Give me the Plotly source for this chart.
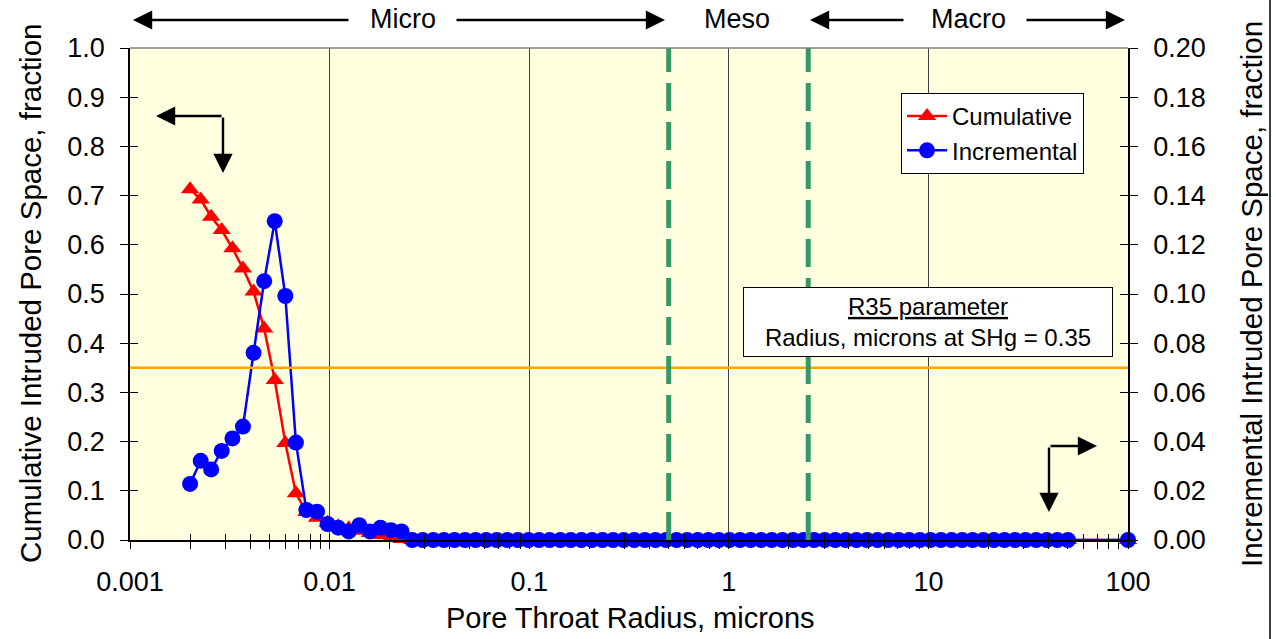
import plotly.graph_objects as go

# ---------------- data ----------------
radius_um = [
    0.00200, 0.00226, 0.00255, 0.00288, 0.00326, 0.00368, 0.00416, 0.00470, 0.00531, 0.00600,
    0.00678, 0.00765, 0.00865, 0.00977, 0.01104, 0.01247, 0.01409, 0.01592, 0.01798, 0.02031,
    0.02295, 0.02593, 0.02929, 0.03309, 0.03738, 0.04223, 0.04772, 0.05391, 0.0609, 0.0688,
    0.0777, 0.0878, 0.0992, 0.1121, 0.1266, 0.1431, 0.1616, 0.1826, 0.2063, 0.2331,
    0.2633, 0.2975, 0.3361, 0.3797, 0.4290, 0.4847, 0.5475, 0.6186, 0.6988, 0.7896,
    0.892, 1.008, 1.139, 1.286, 1.453, 1.642, 1.855, 2.096, 2.367, 2.675,
    3.022, 3.414, 3.857, 4.358, 4.923, 5.562, 6.284, 7.099, 8.020, 9.061,
    10.23, 11.56, 13.06, 14.76, 16.67, 18.84, 21.28, 24.05, 27.16, 30.69,
    34.67, 39.17, 44.26, 50.00, 100.0,
]

cumulative_head = [
    0.713, 0.692, 0.657, 0.630, 0.593, 0.552, 0.505, 0.430, 0.325, 0.197,
    0.095, 0.057, 0.045, 0.035, 0.028, 0.024, 0.019, 0.014, 0.010, 0.006,
    0.002,
]
incremental_head = [
    0.0228, 0.0322, 0.0287, 0.0362, 0.0413, 0.0461, 0.0761, 0.1052, 0.1296, 0.0992,
    0.0396, 0.0122, 0.0115, 0.0065, 0.0050, 0.0035, 0.0060, 0.0035, 0.0050, 0.0040,
    0.0035,
]
zeros_tail = [0.0] * (len(radius_um) - len(cumulative_head))
cumulative = cumulative_head + zeros_tail
incremental = incremental_head + zeros_tail

x_tickvals = [0.001, 0.01, 0.1, 1, 10, 100]
x_ticktext = ["0.001", "0.01", "0.1", "1", "10", "100"]
y1_ticks = [0.0, 0.1, 0.2, 0.3, 0.4, 0.5, 0.6, 0.7, 0.8, 0.9, 1.0]
y2_ticks = [0.00, 0.02, 0.04, 0.06, 0.08, 0.10, 0.12, 0.14, 0.16, 0.18, 0.20]

r35_level = 0.35
meso_bounds = [0.5, 2.5]

# ---------------- layout constants ----------------
W, H = 1276, 639
ML, MR, MT, MB = 130, 148, 48, 99
PW, PH = W - ML - MR, H - MT - MB
FONT = "Liberation Sans, Arial, sans-serif"
TICK_SIZE = 27


def px(x):
    return (x - ML) / PW


def py(y):
    return (H - MB - y) / PH


fig = go.Figure()

fig.add_trace(go.Scatter(
    x=radius_um, y=cumulative, name="Cumulative", mode="lines+markers",
    line=dict(color="#FF0000", width=2.5),
    marker=dict(symbol="triangle-up", size=16, color="#FF0000"),
    cliponaxis=False, yaxis="y",
))
fig.add_trace(go.Scatter(
    x=radius_um, y=incremental, name="Incremental", mode="lines+markers",
    line=dict(color="#0000FF", width=2.5),
    marker=dict(symbol="circle", size=16, color="#0000FF"),
    cliponaxis=False, yaxis="y2",
))
# helper invisible traces so the inner-tick axes get drawn
fig.add_trace(go.Scatter(x=[0.001, 100], y=[0, 0], xaxis="x2", yaxis="y3",
                         mode="none", showlegend=False, hoverinfo="skip"))
fig.add_trace(go.Scatter(x=[0.001, 100], y=[0, 0], xaxis="x2", yaxis="y4",
                         mode="none", showlegend=False, hoverinfo="skip"))

minor_vals = [m * 10 ** e for e in range(-3, 2) for m in range(2, 10)]

shapes = []
# R35 horizontal line
shapes.append(dict(type="line", xref="paper", yref="y", x0=0, x1=1,
                   y0=r35_level, y1=r35_level,
                   line=dict(color="#FFA500", width=2.5), layer="above"))
# meso boundaries
for b in meso_bounds:
    shapes.append(dict(type="line", xref="x", yref="paper",
                       x0=b, x1=b, y0=0, y1=1,
                       line=dict(color="#339966", width=5, dash="28px,11px"),
                       layer="above"))
# outer right frame line
shapes.append(dict(type="line", xref="paper", yref="paper",
                   x0=px(1270), x1=px(1270), y0=py(0), y1=py(639),
                   line=dict(color="#000000", width=1.5)))
# top border of plot area (grey)
shapes.append(dict(type="line", xref="paper", yref="paper",
                   x0=0, x1=1, y0=1, y1=1,
                   line=dict(color="#808080", width=1.5)))

annotations = []
TXT = dict(family=FONT, size=27, color="black")
TITLE = dict(family=FONT, size=29.5, color="black")


def arrow(tip_x, tip_y, tail_x, tail_y):
    annotations.append(dict(
        xref="paper", yref="paper", x=px(tip_x), y=py(tip_y),
        axref="pixel", ayref="pixel", ax=tail_x - tip_x, ay=tail_y - tip_y,
        text="", showarrow=True, arrowhead=2, arrowsize=1.6, arrowwidth=2.4,
        arrowcolor="black",
    ))


# top region labels with arrows
for label, cx in [("Micro", 403), ("Meso", 737), ("Macro", 968)]:
    annotations.append(dict(xref="paper", yref="paper", x=px(cx), y=py(19),
                            text=label, showarrow=False, font=TXT,
                            xanchor="center", yanchor="middle"))
arrow(133, 20, 350, 20)
arrow(665, 20, 455, 20)
arrow(810, 20, 905, 20)
arrow(1125, 20, 1025, 20)

# corner arrows
arrow(156, 116, 223, 116)
arrow(223, 173, 223, 116)
arrow(1097, 446, 1049, 446)
arrow(1049, 512, 1049, 446)

# R35 box
annotations.append(dict(
    xref="paper", yref="paper", x=px(927.5), y=py(322),
    text="<u>R35 parameter</u><br>Radius, microns at SHg = 0.35",
    showarrow=False, font=dict(family=FONT, size=24, color="black"),
    bgcolor="white", bordercolor="black", borderwidth=1, borderpad=2,
    xanchor="center", yanchor="middle", width=364, height=64,
))

# axis titles
annotations.append(dict(xref="paper", yref="paper", x=px(30), y=py(294),
                        text="Cumulative Intruded Pore Space, fraction",
                        textangle=-90, showarrow=False, font=TITLE,
                        xanchor="center", yanchor="middle"))
annotations.append(dict(xref="paper", yref="paper", x=px(1251), y=py(294),
                        text="Incremental Intruded Pore Space, fraction",
                        textangle=-90, showarrow=False, font=TITLE,
                        xanchor="center", yanchor="middle"))
annotations.append(dict(xref="paper", yref="paper", x=px(630), y=py(618),
                        text="Pore Throat Radius, microns",
                        showarrow=False, font=dict(family=FONT, size=29, color="black"),
                        xanchor="center", yanchor="middle"))

common_x = dict(type="log", range=[-3, 2], zeroline=False)

fig.update_layout(
    width=W, height=H,
    margin=dict(l=ML, r=MR, t=MT, b=MB, pad=0),
    paper_bgcolor="white", plot_bgcolor="#FFFFE0",
    font=dict(family=FONT, size=TICK_SIZE, color="black"),
    showlegend=True,
    legend=dict(x=px(901), y=py(93), xanchor="left", yanchor="top",
                bgcolor="white", bordercolor="black", borderwidth=1,
                font=dict(family=FONT, size=24, color="black"),
                tracegroupgap=0, itemwidth=40, traceorder="normal"),
    xaxis=dict(**common_x, tickvals=x_tickvals, ticktext=x_ticktext,
               showgrid=True, gridcolor="#404040", gridwidth=1,
               showline=True, linecolor="black", linewidth=1.5,
               ticks="outside", ticklen=7, tickcolor="black",
               minor=dict(tickvals=minor_vals, ticks="outside", ticklen=7,
                          tickcolor="black", showgrid=False),
               tickfont=dict(size=TICK_SIZE), ticklabelstandoff=10),
    xaxis2=dict(**common_x, overlaying="x", side="bottom", anchor="y3",
                tickvals=x_tickvals, showticklabels=False, showgrid=False,
                ticks="inside", ticklen=6, tickcolor="black",
                minor=dict(tickvals=minor_vals, ticks="inside", ticklen=6,
                           tickcolor="black", showgrid=False)),
    yaxis=dict(range=[0, 1], tickvals=y1_ticks, tickformat=".1f",
               showgrid=False, zeroline=False,
               showline=True, linecolor="black", linewidth=1.5,
               ticks="outside", ticklen=8, tickcolor="black",
               tickfont=dict(size=TICK_SIZE), ticklabelstandoff=10),
    yaxis2=dict(range=[0, 0.2], tickvals=y2_ticks, tickformat=".2f",
                overlaying="y", side="right",
                showgrid=False, zeroline=False,
                showline=True, linecolor="black", linewidth=1.5,
                ticks="outside", ticklen=8, tickcolor="black",
                tickfont=dict(size=TICK_SIZE), ticklabelstandoff=10),
    yaxis3=dict(range=[0, 1], tickvals=y1_ticks, overlaying="y", side="left",
                showticklabels=False, showgrid=False, zeroline=False,
                ticks="inside", ticklen=8, tickcolor="black"),
    yaxis4=dict(range=[0, 0.2], tickvals=y2_ticks, overlaying="y", side="right",
                showticklabels=False, showgrid=False, zeroline=False,
                ticks="inside", ticklen=8, tickcolor="black"),
    shapes=shapes, annotations=annotations,
)

fig.write_html("out.html")
